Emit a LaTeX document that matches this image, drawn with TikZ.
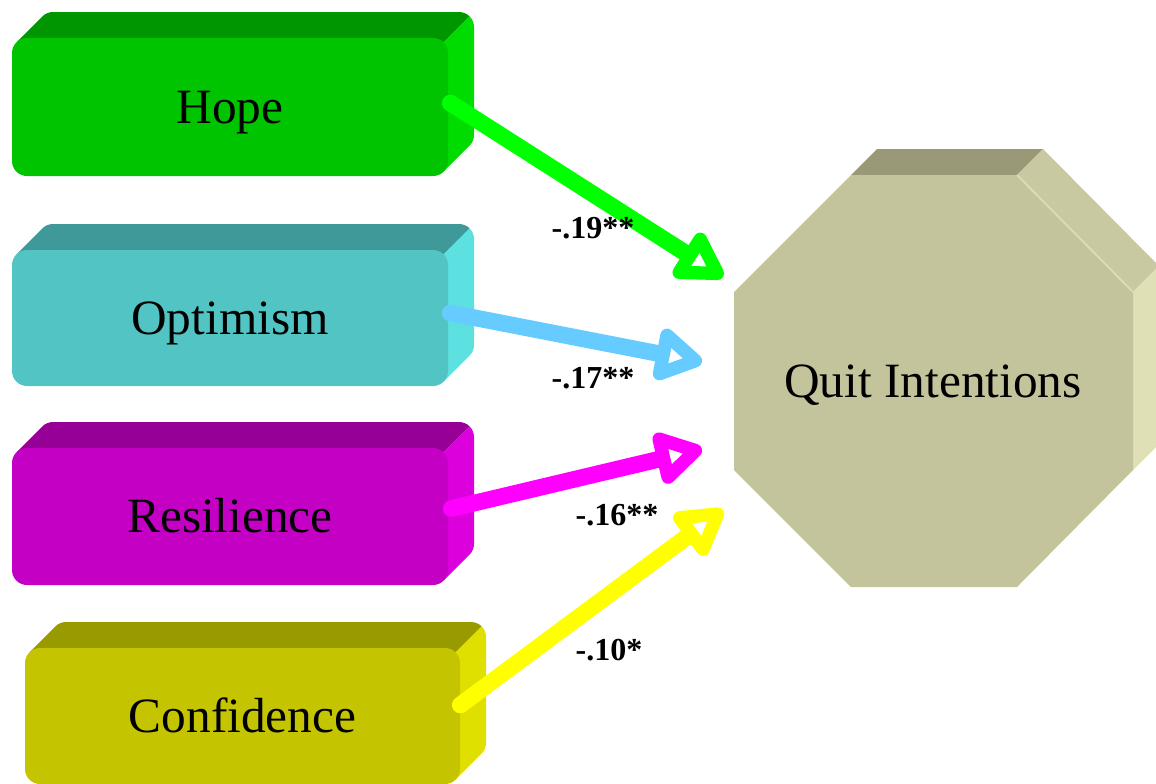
\documentclass[tikz,border=0pt]{standalone}
\usepackage{fontspec}
\setmainfont{Liberation Serif}
\usetikzlibrary{arrows.meta,calc}

% colours of the four predictor blocks, the outcome and the paths
\definecolor{hopeF}{HTML}{00C400}\definecolor{hopeT}{HTML}{009600}\definecolor{hopeS}{HTML}{00DC00}
\definecolor{optF}{HTML}{52C4C4}\definecolor{optT}{HTML}{409999}\definecolor{optS}{HTML}{5CE0E0}
\definecolor{resF}{HTML}{C400C4}\definecolor{resT}{HTML}{960096}\definecolor{resS}{HTML}{DC00DC}
\definecolor{conF}{HTML}{C4C400}\definecolor{conT}{HTML}{999900}\definecolor{conS}{HTML}{E0E000}
\definecolor{qiF}{HTML}{C4C49C}\definecolor{qiT}{HTML}{999977}\definecolor{qiD}{HTML}{C9C9A1}
\definecolor{qiS}{HTML}{E0E0B6}\definecolor{qiEdge}{HTML}{DCDCB4}
\definecolor{hopeA}{HTML}{00FF00}\definecolor{optA}{HTML}{66CCFF}
\definecolor{resA}{HTML}{FF00FF}\definecolor{conA}{HTML}{FFFF00}

\tikzset{
  blockface/.style={inner sep=0pt, rounded corners=11.25pt, text height=24.5pt, text depth=0pt,
    font=\fontsize{37}{40}\selectfont},
  coef/.style={inner sep=0pt, font=\fontsize{24}{28}\selectfont\bfseries},
  pathway/.style={line width=12.5pt, line cap=round,
    -{Triangle[open, round, length=40pt, width=44pt, line width=10pt]}},
}

% extruded rounded block: name, x0, y0, x1, y1, front, top, side, label
\newcommand{\solidblock}[9]{%
  \fill[#7] ({#2+4.39},{#3+4.39}) -- ({#2+30.39},{#3-21.61})
    arc[start angle=225, end angle=270, radius=15] -- ({#4+11},{#3-26})
    arc[start angle=270, end angle=315, radius=15] -- ({#4-4.39},{#3+4.39}) -- cycle;
  \fill[#8] ({#4-4.39},{#3+4.39}) -- ({#4+21.61},{#3-21.61})
    arc[start angle=315, end angle=360, radius=15] -- ({#4+26},{#5-41})
    arc[start angle=0, end angle=45, radius=15] -- ({#4-4.39},{#5-4.39}) -- cycle;
  \node[blockface, fill=#6, minimum width={(#4-#2)*0.75pt}, minimum height={(#5-#3)*0.75pt}]
    (#1) at ({(#2+#4)/2},{(#3+#5)/2}) {#9};
}

\begin{document}
\begin{tikzpicture}[x=0.75pt, y=-0.75pt]
\useasboundingbox (0,0) rectangle (1156,783);

% predictor blocks
\solidblock{hope}{12}{38}{448}{176}{hopeF}{hopeT}{hopeS}{Hope}
\solidblock{opt}{12}{250}{448}{386}{optF}{optT}{optS}{Optimism}
\solidblock{res}{12}{448}{448}{585}{resF}{resT}{resS}{Resilience}
\solidblock{con}{25}{648}{460}{784}{conF}{conT}{conS}{Confidence}

% outcome: extruded octagon
\fill[qiT] (851,175) -- (877,149) -- (1043,149) -- (1017,175) -- cycle;
\fill[qiD] (1017,175) -- (1043,149) -- (1159,266) -- (1133,292) -- cycle;
\fill[qiS] (1133,292) -- (1159,266) -- (1159,444) -- (1133,470) -- cycle;
\fill[qiF] (851,175) -- (1017,175) -- (1133,292) -- (1133,470) -- (1017,587)
  -- (851,587) -- (734,470) -- (734,292) -- cycle;
\draw[qiEdge, line width=1.5pt] (1017,175) -- (1133,292);
\node[inner sep=0pt, text height=24.5pt, text depth=0pt, font=\fontsize{37}{40}\selectfont]
  (qi) at (933,381) {Quit Intentions};

% arrow end points in front of the outcome
\coordinate (tHope) at (723,277);
\coordinate (tOpt) at (702,362);
\coordinate (tRes) at (702,449);
\coordinate (tCon) at (723,510);

% paths
\draw[pathway, hopeA] ($(hope.east)+(2,-4)$) -- (tHope);
\draw[pathway, optA] ($(opt.east)+(2,-5)$) -- (tOpt);
\draw[pathway, resA] ($(res.east)+(3,-8)$) -- (tRes);
\draw[pathway, conA] ($(con.east)+(0,-11)$) -- (tCon);

% path coefficients
\node[coef] (c1) at (593,228) {-.19**};
\node[coef] (c2) at (593,378) {-.17**};
\node[coef] (c3) at (617,515) {-.16**};
\node[coef] (c4) at (609,650) {-.10*};
\end{tikzpicture}
\end{document}
